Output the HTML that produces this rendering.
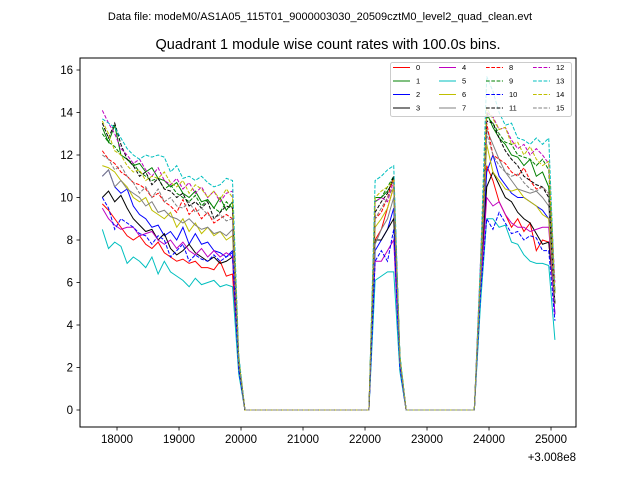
<!DOCTYPE html>
<html><head><meta charset="utf-8">
<style>
html,body{margin:0;padding:0;background:#fff;}
svg{display:block;font-family:"Liberation Sans","DejaVu Sans",sans-serif;}
</style></head>
<body>
<svg id="chart" width="640" height="480" viewBox="0 0 640 480" xmlns="http://www.w3.org/2000/svg">
<rect width="640" height="480" fill="#fff"/>
<text x="320" y="20" font-size="11" text-anchor="middle" fill="#000">Data file: modeM0/AS1A05_115T01_9000003030_20509cztM0_level2_quad_clean.evt</text>
<text x="328" y="49" font-size="14.5" text-anchor="middle" fill="#000">Quadrant 1 module wise count rates with 100.0s bins.</text>
<g id="plot"></g>
</svg>
<script>
const t0 = 17763, binSize = 100;
const xTicks = [18000,19000,20000,21000,22000,23000,24000,25000];
const yTicks = [0,2,4,6,8,10,12,14,16];
const seriesNames = ["0","1","2","3","4","5","6","7","8","9","10","11","12","13","14","15"];
const gapA = [0,0,0,0,0,0,0,0,0,0,0,0,0,0,0,0,0,0,0,0,0];
const gapB = [0,0,0,0,0,0,0,0,0,0,0,0];
const seg1 = [
[9.7,9.4,9.0,8.6,8.2,8.0,8.2,7.8,7.6,7.9,7.4,7.2,7.0,7.1,6.9,7.0,6.7,6.7,6.6,7.0,6.3,6.4],
[13.3,12.6,13.4,12.0,11.8,11.5,11.6,11.2,11.4,10.9,10.8,10.5,10.7,10.2,10.0,10.3,9.8,9.9,9.5,10.0,9.4,9.8],
[11.0,11.3,10.5,10.2,10.4,9.6,9.2,9.0,8.6,8.7,8.2,8.4,8.0,8.6,7.8,8.3,7.8,7.9,7.5,7.4,7.2,7.5],
[10.0,10.3,9.8,10.1,9.5,9.0,8.7,8.4,8.5,8.0,8.3,7.6,7.3,7.5,7.8,7.4,7.2,7.0,7.2,6.9,7.0,7.2],
[9.5,9.0,8.7,8.5,8.6,8.6,8.2,8.3,8.4,8.0,7.8,8.0,7.6,7.9,7.5,7.3,7.6,7.2,7.5,7.2,7.4,7.2],
[8.5,7.6,7.9,7.7,6.9,7.2,7.0,6.7,7.2,6.4,7.0,6.5,6.3,6.1,5.8,6.2,5.9,6.0,6.1,5.8,5.9,5.8],
[11.5,11.4,11.2,10.8,10.5,10.0,9.8,10.0,9.4,9.2,9.0,9.3,8.6,9.0,8.4,8.8,8.3,8.6,8.2,8.4,8.0,8.2],
[11.0,11.3,10.5,10.8,10.4,10.2,10.0,9.6,9.8,9.3,9.4,9.1,9.0,8.8,9.0,8.7,8.5,8.6,8.3,8.4,8.2,8.5],
[12.2,11.8,11.6,11.2,11.0,10.7,10.6,10.4,10.0,10.2,9.8,9.6,9.3,9.9,9.2,9.5,9.0,9.3,8.8,9.0,9.2,9.0],
[13.0,12.6,12.4,12.0,11.8,11.6,11.2,11.0,10.8,10.9,10.4,10.6,10.2,10.0,9.8,10.1,9.6,9.9,9.5,9.3,9.8,9.5],
[10.0,9.5,8.5,9.0,8.8,8.6,8.3,8.2,7.8,8.2,8.0,7.2,7.5,7.8,7.0,7.3,7.1,7.0,7.3,7.0,7.2,7.4],
[13.5,12.8,13.5,12.5,11.8,11.5,11.0,11.2,10.6,10.9,10.4,10.3,10.0,10.2,9.6,9.8,9.5,9.8,9.0,9.3,9.6,9.5],
[14.1,13.5,13.0,12.3,12.0,11.6,11.8,11.3,11.0,11.4,10.8,10.6,10.9,10.4,10.7,10.2,10.5,10.0,10.3,9.8,10.2,10.3],
[13.7,13.5,13.3,12.8,12.3,12.0,11.8,12.0,11.9,12.0,11.9,11.2,11.5,10.9,11.0,10.8,11.0,10.7,10.5,10.6,10.9,10.8],
[13.6,13.0,12.2,12.0,11.5,11.2,11.3,10.8,11.0,10.9,11.2,10.7,10.5,10.8,10.2,10.6,10.4,10.0,10.3,9.9,10.4,10.0],
[12.0,11.8,11.3,11.5,11.0,10.7,10.2,10.5,10.0,10.4,9.8,10.0,9.6,9.5,9.8,9.3,9.5,9.2,9.0,9.2,8.9,9.0]
];
const drop1 = [2.0,2.4,2.1,2.0,1.9,1.7,2.2,2.0,2.3,2.4,1.9,2.3,2.5,2.6,2.4,2.2];
const seg2 = [
[8,8.5,9.5,10.5],[10,10,10.3,10.8],[7.5,8,8.5,9.5],[8,8,8.5,9],
[7,7,7.5,8],[6.1,6.3,6.5,6.5],[8.6,9,9.5,10.5],[7.8,8.5,9,10],
[9,9.3,10,11],[9.8,10,10.5,11],[7,7.5,7,8.5],[9.3,9.8,10.2,11],
[9.8,10,9.8,10.8],[10.8,11,11.3,11.5],[10,10.3,10.5,10.8],[9,9.5,10,10.5]
];
const drop2 = [2.2,2.5,2.0,2.1,1.9,1.8,2.3,2.2,2.4,2.5,2.0,2.4,2.4,2.6,2.5,2.3];
const seg3 = [
[6,11.5,10.8,9.8,9.2,8.6,9.0,8.4,8.8,7.5,8.0,7.9,5],
[6.5,14.0,13.3,12.8,12.5,12.0,11.9,11.5,11.8,11.0,11.2,10.5,5.5],
[6,11.2,12.0,11.0,10.6,10.2,10.0,10.0,9.8,9.6,9.4,9.0,4.5],
[6,10.5,11.2,10.6,10.0,9.8,9.3,9.0,8.8,8.3,7.8,7.9,5],
[5.5,10.0,9.6,9.8,9.2,8.8,8.6,8.6,8.4,8.5,8.6,8.6,4.5],
[5,9.0,9.0,8.6,8.7,7.9,7.8,7.3,7.0,6.9,6.9,6.8,3.3],
[6,12.5,11.2,10.8,10.4,10.3,10.4,10.0,9.8,9.6,9.2,9.0,5],
[6,13.2,12.5,11.8,11.2,10.8,10.4,10.3,10.2,10.3,10.0,9.6,5],
[6.5,13.5,12.0,11.8,11.6,11.2,11.0,11.4,10.8,10.4,10.5,10.2,5.5],
[6.5,13.8,13.5,13.0,12.6,12.5,12.0,11.9,11.8,11.5,11.8,11.3,5.5],
[5.5,9.0,8.5,9.3,8.8,8.3,8.4,8.0,8.2,8.1,7.5,7.5,4.2],
[6.5,13.6,13.5,12.8,12.2,11.8,11.5,11.0,10.8,10.6,10.5,10.0,5],
[7,14.0,13.8,13.2,13.3,12.7,12.3,12.5,12.0,12.3,12.0,11.6,6],
[7,15.7,15.0,14.0,13.4,13.5,12.8,12.7,12.5,12.8,12.5,12.8,5.5],
[6.5,14.2,13.7,13.2,13.3,12.5,12.6,12.0,12.4,11.8,11.5,11.7,5.5],
[6,13.0,12.0,11.5,11.2,11.0,11.1,10.7,10.4,10.3,10.5,10.2,5]
];
const colors = ["#ff0000","#008000","#0000ff","#000000","#bf00bf","#00bfbf","#bfbf00","#808080"];

const NS = "http://www.w3.org/2000/svg";
const L = 80, R = 576, T = 58, B = 427;
const xMin = 17403, xMax = 25403;
function xS(v){ return L + (v - xMin) * (R - L) / (xMax - xMin); }
function yS(v){ return 410 - v * 21.25; }
const g = document.getElementById('plot');
function el(tag, attrs, parent){
  const e = document.createElementNS(NS, tag);
  for (const k in attrs) e.setAttribute(k, attrs[k]);
  (parent || g).appendChild(e);
  return e;
}
const defs = el('defs', {});
const cp = el('clipPath', {id:'clip'}, defs);
el('rect', {x:L, y:T, width:R-L, height:B-T}, cp);

const lines = el('g', {'clip-path':'url(#clip)'});


for (let s = 0; s < 16; s++) {
  const vals = [].concat(seg1[s], [drop1[s]], gapA, seg2[s], [drop2[s]], gapB, seg3[s]);
  let d = '';
  vals.forEach((v, i) => { d += (i ? 'L' : 'M') + xS(t0 + i * binSize).toFixed(2) + ',' + yS(v).toFixed(2); });
  const p = el('path', {d:d, fill:'none', stroke:colors[s % 8], 'stroke-width':1, 'stroke-dasharray': s >= 8 ? '3.7,1.6' : 'none'}, lines);
  
  
}

const frame = el('rect', {x:L, y:T, width:R-L, height:B-T, fill:'none', stroke:'#000', 'stroke-width':1});



xTicks.forEach(v => {
  const x = xS(v);
  el('line', {x1:x, y1:B, x2:x, y2:B+3.5, stroke:'#000', 'stroke-width':0.8});
  const t = el('text', {x:x, y:B+16, 'font-size':11.5, 'text-anchor':'middle', fill:'#000'});
  t.textContent = v;
  
  
});
yTicks.forEach(v => {
  const y = yS(v);
  el('line', {x1:L-3.5, y1:y, x2:L, y2:y, stroke:'#000', 'stroke-width':0.8});
  const t = el('text', {x:L-7, y:y+4, 'font-size':11.5, 'text-anchor':'end', fill:'#000'});
  t.textContent = v;
  
  
});
const off = el('text', {x:576, y:461, 'font-size':11.5, 'text-anchor':'end', fill:'#000'});
off.textContent = '+3.008e8';



const lg = el('g', {});


el('rect', {x:390.5, y:62.5, width:181, height:54, fill:'#fff', 'fill-opacity':0.8, stroke:'#ccc', 'stroke-width':1, rx:2}, lg);
const colX = [393, 439, 486, 533];
const rowY = [67.5, 81, 94.5, 108];
for (let s = 0; s < 16; s++) {
  const c = Math.floor(s / 4), r = s % 4;
  const item = el('g', {}, lg);
  
  
  el('line', {x1:colX[c], y1:rowY[r], x2:colX[c]+17, y2:rowY[r], stroke:colors[s % 8], 'stroke-width':1, 'stroke-dasharray': s >= 8 ? '3.7,1.6' : 'none'}, item);
  const t = el('text', {x:colX[c]+23, y:rowY[r]+2.5, 'font-size':7.5, fill:'#000'}, item);
  t.textContent = seriesNames[s];
}
</script>
</body></html>
